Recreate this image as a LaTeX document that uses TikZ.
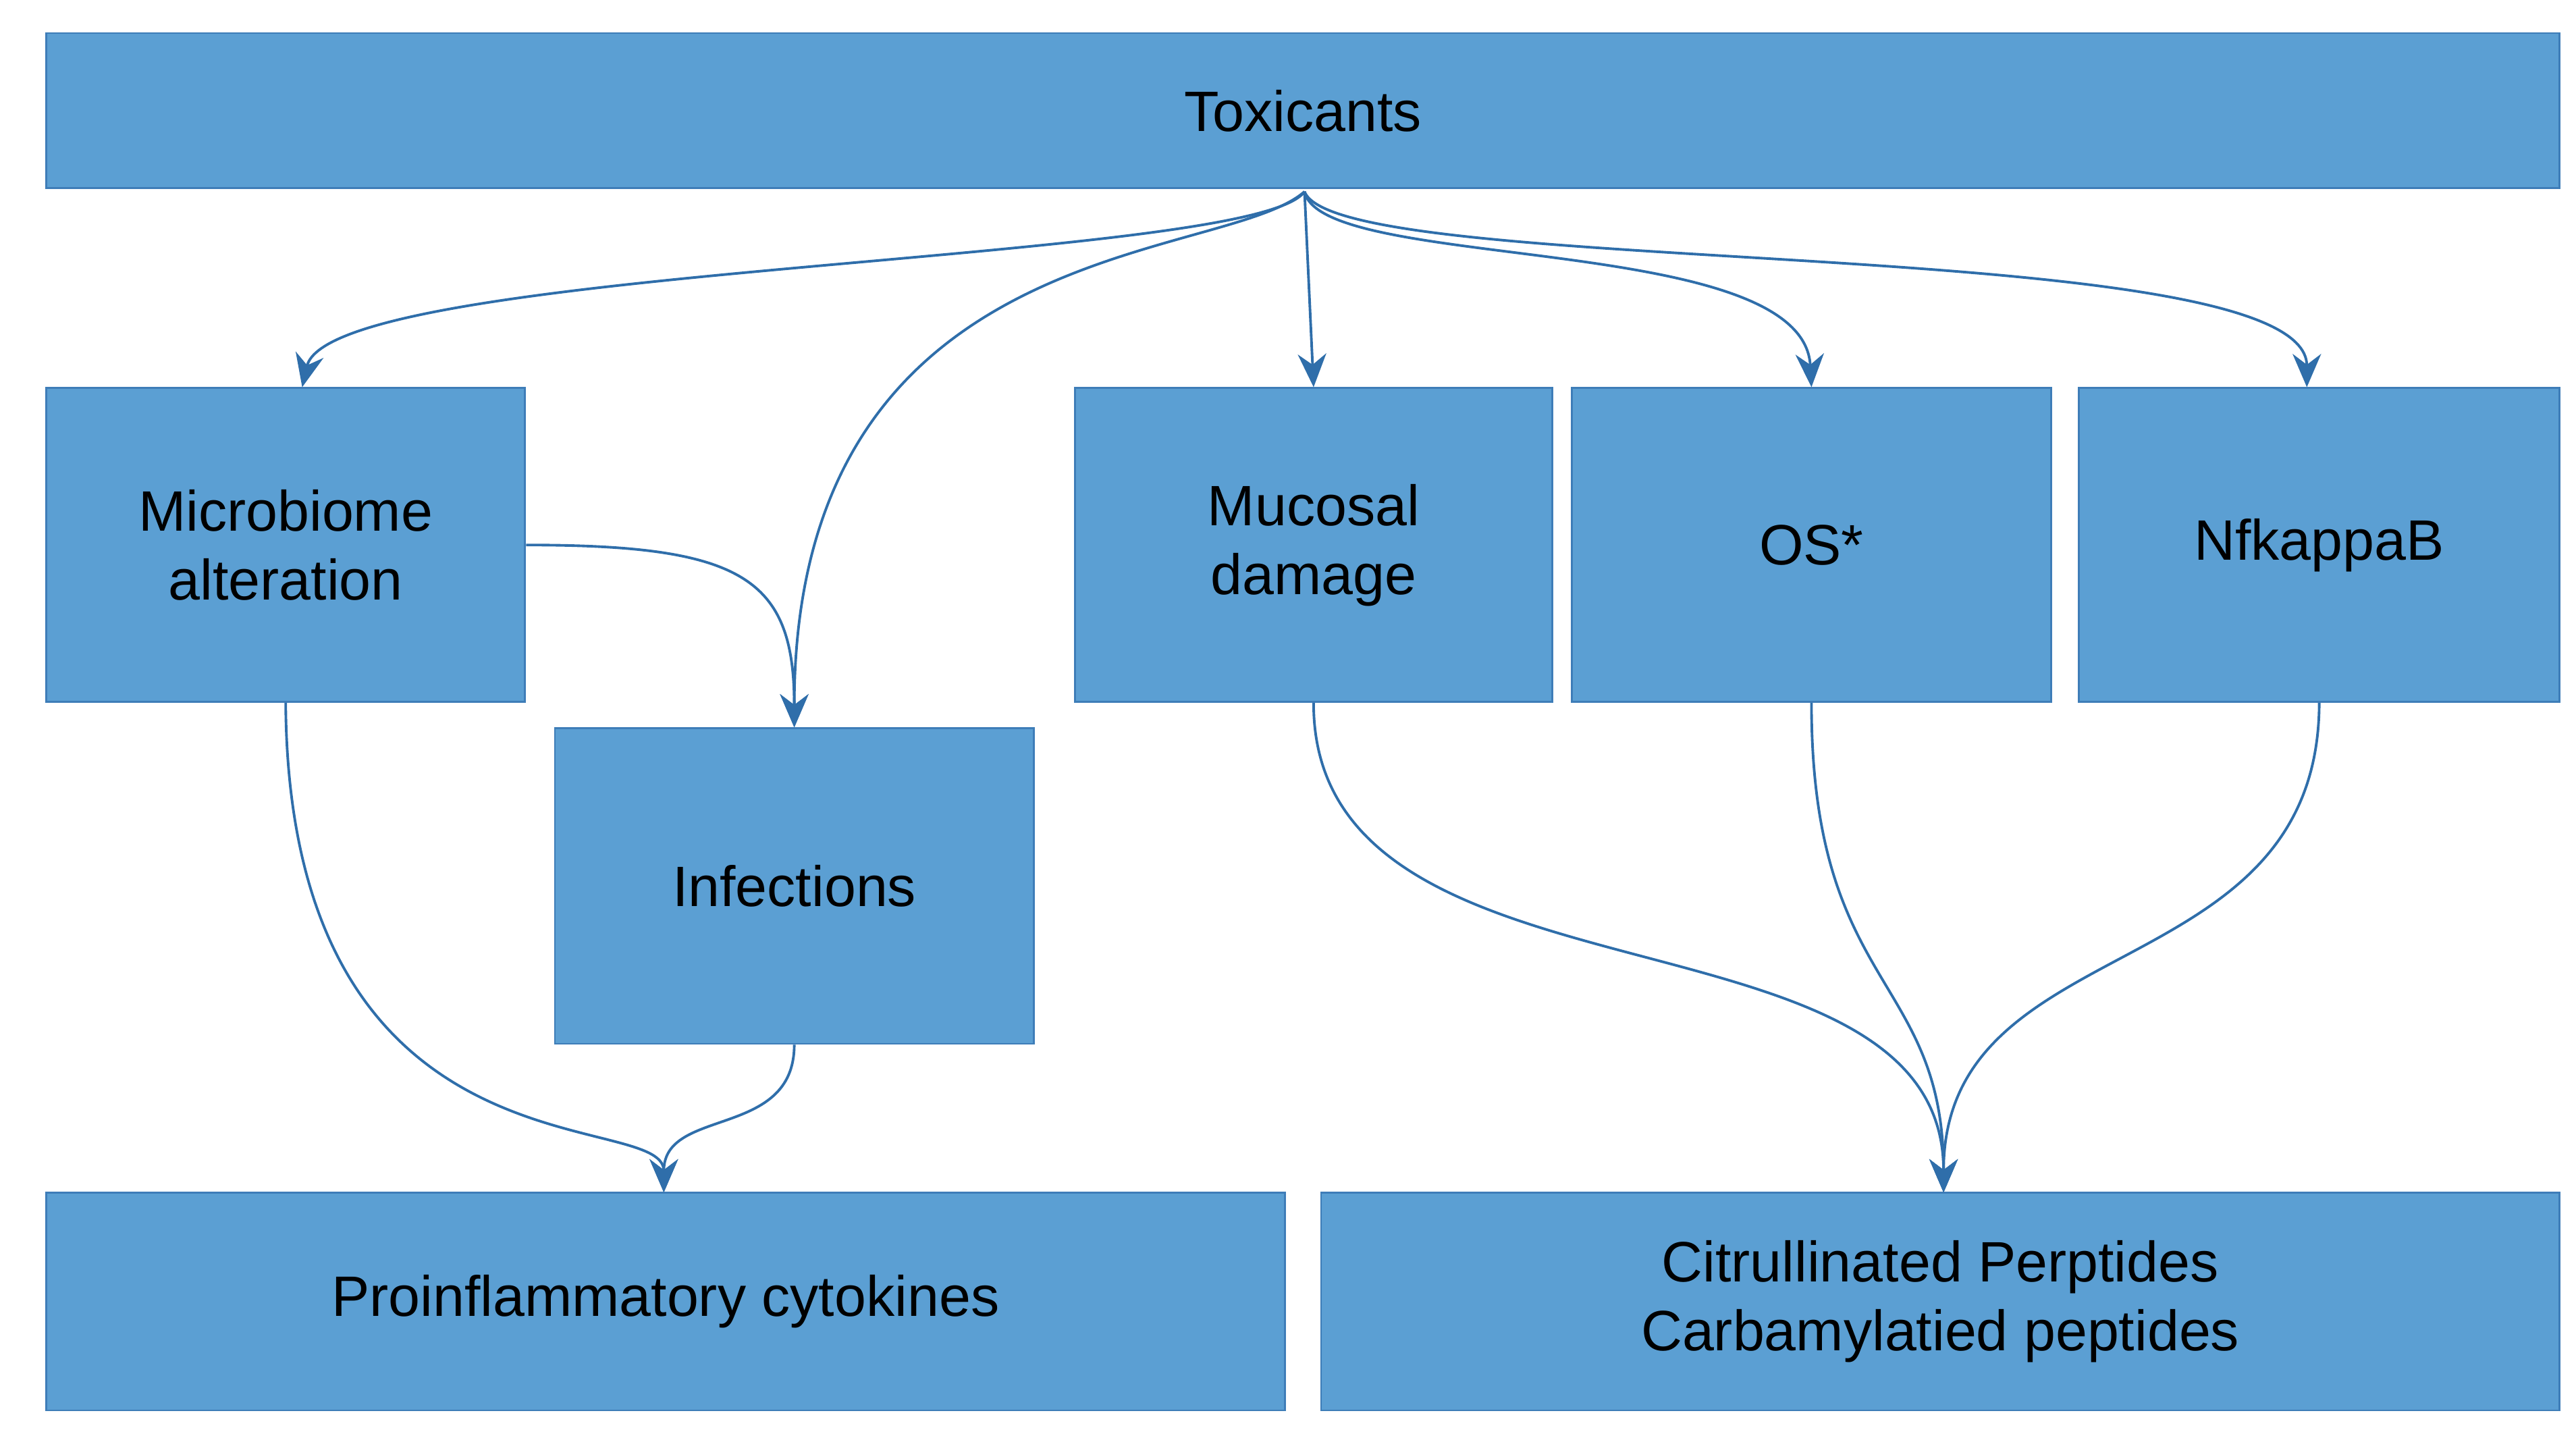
\documentclass[tikz,border=0pt]{standalone}
\usepackage{fontspec}
\setmainfont{Liberation Sans}
\usetikzlibrary{arrows.meta}
\definecolor{boxfill}{HTML}{5B9FD3}
\definecolor{boxline}{HTML}{3E7DB8}
\definecolor{arr}{HTML}{2F6EAA}
\begin{document}
\begin{tikzpicture}[x=0.02446cm,y=-0.02446cm,
  box/.style={draw=boxline,fill=boxfill,line width=0.8pt,inner sep=0pt,align=center,
    font=\fontsize{24}{29}\selectfont},
  ar/.style={draw=arr,line width=1.1pt,-{Stealth[length=14pt,width=12pt]}}]
\useasboundingbox (0,0) rectangle (1560,867);
\def\bx#1#2#3#4#5#6{\node[box,minimum width={(#4-#2)*0.02446cm},minimum height={(#5-#3)*0.02446cm}] (#1) at ({(#2+#4)/2},{(#3+#5)/2}) {#6};}
\bx{tox}{28}{20}{1550}{114}{Toxicants}
\bx{mic}{28}{235}{318}{425}{Microbiome\\alteration}
\bx{muc}{651}{235}{940}{425}{Mucosal\\damage}
\bx{os}{952}{235}{1242}{425}{OS*}
\bx{nf}{1259}{235}{1550}{425}{NfkappaB}
\bx{inf}{336}{441}{626}{632}{Infections}
\bx{pro}{28}{722}{778}{854}{Proinflammatory cytokines}
\bx{cit}{800}{722}{1550}{854}{Citrullinated Perptides\\Carbamylatied peptides}
\coordinate (t0) at (790,116);
\draw[ar] (t0) .. controls (760,160) and (200,160) .. (mic.north-|183,0);
\draw[ar] (t0) .. controls (740,160) and (481,140) .. (inf.north);
\draw[ar] (t0) -- (muc.north);
\draw[ar] (t0) .. controls (800,165) and (1092,140) .. (os.north);
\draw[ar] (t0) .. controls (810,170) and (1397,140) .. (nf.north-|1397,0);
\draw[ar] (mic.east) .. controls (450,330) and (481,350) .. (inf.north);
\coordinate (p0) at (402,722);
\draw[ar] (mic.south) .. controls (175,720) and (402,670) .. (p0);
\draw[ar] (inf.south) .. controls (481,690) and (402,670) .. (p0);
\coordinate (c0) at (1177,722);
\draw[ar] (muc.south) .. controls (795,620) and (1177,540) .. (c0);
\draw[ar] (os.south) .. controls (1097,600) and (1177,590) .. (c0);
\draw[ar] (nf.south) .. controls (1404,600) and (1177,560) .. (c0);
\end{tikzpicture}
\end{document}
